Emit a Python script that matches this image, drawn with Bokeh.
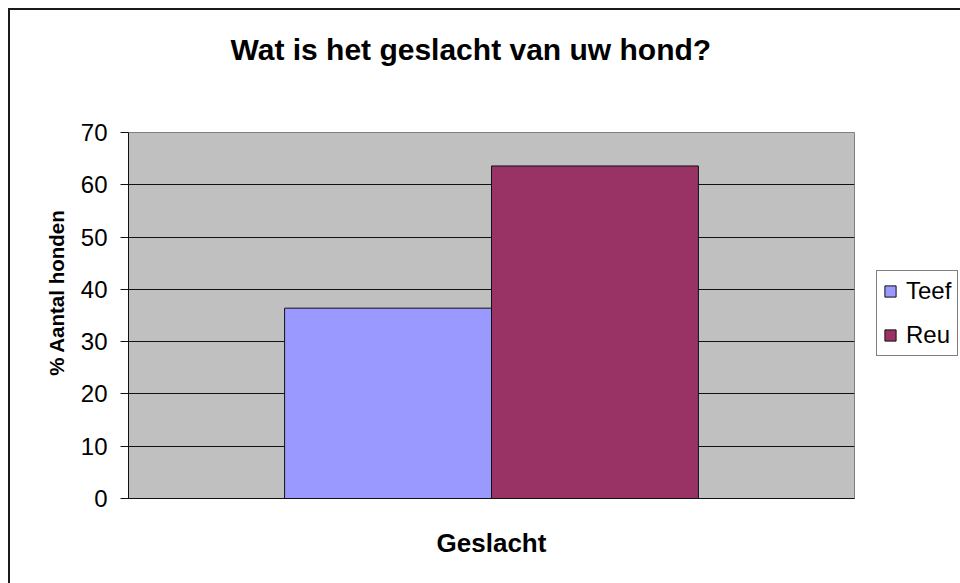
from bokeh.plotting import figure
from bokeh.models import (FactorRange, Range1d, Legend, LegendItem, FixedTicker,
                          Title, ColumnDataSource)
from bokeh.transform import dodge
from bokeh.embed import file_html
from bokeh.resources import INLINE

# ---- data ----
categories = ["Geslacht"]
series_names = ["Teef", "Reu"]
teef_values = [36.4]
reu_values = [63.6]
series_colors = ["#9999FF", "#993366"]
y_tick_values = [0, 10, 20, 30, 40, 50, 60, 70]

FONT = "Liberation Sans"

source = ColumnDataSource(data=dict(cat=categories, Teef=teef_values, Reu=reu_values))

p = figure(
    x_range=FactorRange(factors=categories, range_padding=0),
    y_range=Range1d(0, 70),
    frame_width=726, frame_height=366,
    min_border_left=118, min_border_right=106,
    min_border_top=122, min_border_bottom=85,
    output_backend="svg", toolbar_location=None,
    background_fill_color="#C0C0C0", border_fill_color="white",
)
p.styles = {"margin-left": "8px", "margin-top": "8px",
            "border-left": "2px solid #1a1a1a", "border-top": "2px solid #1a1a1a"}

p.outline_line_color = "#808080"
p.outline_line_width = 1

# spacer (nearest to the frame), then the real title above it
spacer = Title(text=" ", text_font=FONT, text_font_size="10px", standoff=54)
p.add_layout(spacer, "above")
title = Title(text="Wat is het geslacht van uw hond?", align="left", offset=102,
              standoff=0, text_font=FONT, text_font_size="30px",
              text_font_style="bold", text_color="black")
p.add_layout(title, "above")

bar_w = 0.285
renderers = []
for name, col, off in zip(series_names, series_colors, [-bar_w / 2, bar_w / 2]):
    r = p.vbar(x=dodge("cat", off, range=p.x_range), top=name, width=bar_w,
               source=source, fill_color=col, line_color="#111111", line_width=1)
    renderers.append((name, r))

# grid
p.xgrid.grid_line_color = None
p.ygrid.grid_line_color = "#111111"
p.ygrid.grid_line_width = 1

# y axis
p.yaxis.ticker = FixedTicker(ticks=y_tick_values)
p.yaxis.minor_tick_line_color = None
p.yaxis.major_tick_in = 0
p.yaxis.major_tick_out = 8
p.yaxis.major_tick_line_color = "#111111"
p.yaxis.axis_line_color = "#111111"
p.yaxis.major_label_standoff = 13
p.yaxis.major_label_text_font = FONT
p.yaxis.major_label_text_font_size = "24px"
p.yaxis.major_label_text_color = "black"
# leading no-break spaces shift the label upward, as in the reference
p.yaxis.axis_label = "\u00a0" * 8 + "% Aantal honden"
p.yaxis.axis_label_text_font = FONT
p.yaxis.axis_label_text_font_size = "20.5px"
p.yaxis.axis_label_text_font_style = "bold"
p.yaxis.axis_label_text_color = "black"
p.yaxis.axis_label_standoff = 10

# x axis
p.xaxis.major_tick_line_color = None
p.xaxis.minor_tick_line_color = None
p.xaxis.major_label_text_font_size = "1px"
p.xaxis.major_label_text_color = None
p.xaxis.major_label_standoff = 0
p.xaxis.axis_line_color = "#111111"
p.xaxis.axis_label = "Geslacht"
p.xaxis.axis_label_text_font = FONT
p.xaxis.axis_label_text_font_size = "26px"
p.xaxis.axis_label_text_font_style = "bold"
p.xaxis.axis_label_text_color = "black"
p.xaxis.axis_label_standoff = 23

legend = Legend(
    items=[LegendItem(label=n, renderers=[r]) for n, r in renderers],
    location=(22, 142),
    border_line_color="black", border_line_width=1,
    background_fill_color="white", background_fill_alpha=1,
    padding=6, spacing=16, margin=0,
    glyph_width=14, glyph_height=14, label_standoff=9,
    label_height=24,
    label_text_font=FONT, label_text_font_size="24px", label_text_color="black",
)
p.add_layout(legend, "right")

open("out.html", "w").write(file_html(p, INLINE))
